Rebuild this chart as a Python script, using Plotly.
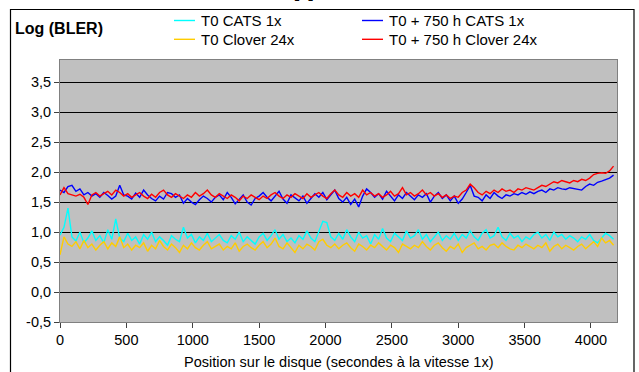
import plotly.graph_objects as go

# positions on disc (seconds at 1x speed)
positions = list(range(0, 4200, 30))

t0_cats_1x = [
    0.95, 1.08, 1.40, 0.92, 0.85, 1.00, 0.82, 0.90, 1.02, 0.86,
    0.94, 0.82, 1.04, 0.88, 1.22, 0.90, 0.84, 0.98, 0.86, 0.92,
    0.80, 0.96, 0.88, 1.00, 0.84, 0.92, 0.86, 0.78, 0.94, 0.88,
    0.84, 1.08, 0.90, 0.96, 0.82, 0.92, 0.86, 0.98, 0.84, 0.90,
    0.96, 0.86, 0.82, 0.94, 0.88, 1.00, 0.84, 0.92, 0.86, 0.80,
    0.92, 0.98, 0.86, 0.94, 1.04, 0.88, 0.96, 0.84, 0.90, 0.82,
    0.94, 0.88, 1.02, 0.90, 0.84, 1.00, 1.18, 1.16, 0.92, 0.86,
    0.98, 0.88, 1.04, 0.92, 0.84, 1.00, 0.90, 0.94, 0.80, 0.96,
    0.88, 1.06, 0.90, 0.84, 0.98, 0.92, 0.86, 1.02, 0.90, 0.94,
    1.04, 0.88, 0.96, 0.84, 0.92, 1.00, 0.86, 0.94, 0.88, 0.98,
    0.86, 0.96, 0.90, 1.02, 0.92, 0.86, 0.98, 1.04, 0.90, 0.94,
    1.08, 0.92, 0.86, 0.98, 0.90, 0.94, 0.84, 0.92, 0.88, 0.96,
    1.00, 0.90, 0.96, 0.86, 1.00, 0.92, 0.96, 0.88, 0.94, 0.90,
    0.84, 0.92, 0.88, 0.96, 0.86, 0.82, 0.90, 0.98, 0.94, 0.88,
]

t0_clover_24x = [
    0.62, 0.92, 0.80, 0.76, 0.84, 0.72, 0.86, 0.74, 0.80, 0.70,
    0.78, 0.84, 0.72, 0.82, 0.76, 0.92, 0.74, 0.80, 0.70, 0.78,
    0.74, 0.82, 0.68, 0.78, 0.72, 0.86, 0.76, 0.70, 0.80, 0.74,
    0.66, 0.78, 0.72, 0.82, 0.74, 0.70, 0.78, 0.84, 0.72, 0.76,
    0.80, 0.70, 0.76, 0.72, 0.82, 0.68, 0.76, 0.80, 0.74, 0.70,
    0.78, 0.84, 0.74, 0.80, 0.90, 0.76, 0.72, 0.82, 0.74, 0.66,
    0.78, 0.72, 0.80, 0.76, 0.70, 0.84, 0.88, 0.78, 0.74, 0.80,
    0.72, 0.78, 0.82, 0.74, 0.68, 0.80, 0.76, 0.70, 0.78, 0.74,
    0.82, 0.76, 0.70, 0.78, 0.74, 0.66, 0.80, 0.76, 0.72, 0.78,
    0.74, 0.84, 0.76, 0.70, 0.78, 0.82, 0.74, 0.68, 0.76, 0.72,
    0.80, 0.66, 0.74, 0.78, 0.82, 0.72, 0.76, 0.70, 0.78, 0.80,
    0.74, 0.82, 0.76, 0.72, 0.70, 0.78, 0.74, 0.80, 0.76, 0.72,
    0.78, 0.74, 0.82, 0.68, 0.76, 0.80, 0.72, 0.78, 0.74, 0.70,
    0.76, 0.80, 0.72, 0.78, 0.84, 0.76, 0.90, 0.82, 0.86, 0.78,
]

t750_cats_1x = [
    1.70, 1.66, 1.76, 1.78, 1.68, 1.72, 1.62, 1.66, 1.60, 1.64,
    1.58, 1.66, 1.61, 1.55, 1.60, 1.78, 1.62, 1.60, 1.55, 1.65,
    1.58, 1.70, 1.62, 1.56, 1.52, 1.60, 1.55, 1.66, 1.64, 1.58,
    1.62, 1.48, 1.56, 1.50, 1.46, 1.54, 1.60, 1.56, 1.50, 1.58,
    1.62, 1.54, 1.66, 1.58, 1.47, 1.55, 1.62, 1.50, 1.45, 1.56,
    1.60, 1.66, 1.58, 1.52, 1.60, 1.68, 1.55, 1.48, 1.62, 1.57,
    1.52, 1.60, 1.48, 1.56, 1.64, 1.58, 1.66, 1.54, 1.62, 1.70,
    1.56, 1.50, 1.58, 1.46, 1.55, 1.42, 1.60, 1.72, 1.66, 1.58,
    1.64, 1.55, 1.68, 1.60, 1.52, 1.62, 1.56, 1.66, 1.60, 1.54,
    1.62, 1.58, 1.64, 1.50, 1.60, 1.66, 1.56, 1.62, 1.52, 1.60,
    1.48, 1.55, 1.66, 1.78, 1.60, 1.58, 1.52, 1.62, 1.56, 1.66,
    1.60, 1.56, 1.62, 1.60, 1.64, 1.62, 1.66, 1.63, 1.67, 1.64,
    1.68, 1.70, 1.66, 1.72, 1.70, 1.74, 1.72, 1.71, 1.74, 1.73,
    1.72, 1.70, 1.76, 1.80, 1.78, 1.83, 1.85, 1.87, 1.90, 1.95,
]

t750_clover_24x = [
    1.62, 1.74, 1.64, 1.62, 1.60, 1.63, 1.58, 1.46, 1.62, 1.66,
    1.60, 1.64, 1.68, 1.62, 1.70, 1.66, 1.60, 1.64, 1.58, 1.62,
    1.66, 1.60, 1.56, 1.63, 1.58, 1.66, 1.70, 1.62, 1.58, 1.64,
    1.60, 1.56, 1.62, 1.58, 1.66, 1.60, 1.64, 1.70, 1.62, 1.58,
    1.64, 1.60, 1.56, 1.62, 1.58, 1.52, 1.60, 1.56, 1.62, 1.58,
    1.54, 1.60, 1.56, 1.62, 1.66, 1.60, 1.56, 1.62, 1.58, 1.64,
    1.60, 1.56, 1.64, 1.58, 1.62, 1.66, 1.60, 1.56, 1.64, 1.70,
    1.62, 1.58, 1.66, 1.60, 1.64, 1.58, 1.70, 1.62, 1.66, 1.60,
    1.64, 1.58, 1.62, 1.68, 1.60, 1.64, 1.74, 1.62, 1.66, 1.60,
    1.64, 1.70, 1.62, 1.66, 1.60, 1.64, 1.58, 1.62, 1.56, 1.60,
    1.58, 1.66, 1.70, 1.80, 1.74, 1.66, 1.62, 1.68, 1.64, 1.70,
    1.66, 1.72, 1.68, 1.70, 1.66, 1.72, 1.70, 1.74, 1.72, 1.70,
    1.74, 1.78, 1.76, 1.80, 1.84, 1.82, 1.86, 1.84, 1.82, 1.86,
    1.84, 1.88, 1.86, 1.90, 1.96, 1.98, 1.99, 1.98, 2.02, 2.10,
]

series_names = ["T0 CATS 1x", "T0 Clover 24x", "T0 + 750 h CATS 1x", "T0 + 750 h Clover 24x"]
series_values = [t0_cats_1x, t0_clover_24x, t750_cats_1x, t750_clover_24x]
series_colors = ["#00FFFF", "#FFCC00", "#0000FF", "#FF0000"]

y_tickvals = [-0.5, 0, 0.5, 1, 1.5, 2, 2.5, 3, 3.5]
y_ticktext = ["-0,5", "0,0", "0,5", "1,0", "1,5", "2,0", "2,5", "3,0", "3,5"]
x_tickvals = [0, 500, 1000, 1500, 2000, 2500, 3000, 3500, 4000]

FONT = "Liberation Sans, Arial, sans-serif"
W, H = 639, 372
L, R, T, B = 60, 22, 60, 50
PW, PH = W - L - R, H - T - B


def px(x):
    return (x - L) / PW


def py(y):
    return (H - B - y) / PH


fig = go.Figure()
for name, vals, col in zip(series_names, series_values, series_colors):
    fig.add_trace(go.Scatter(x=positions, y=vals, mode="lines", name=name,
                             line=dict(color=col, width=1.4), showlegend=False))

fig.update_layout(
    width=W, height=H,
    margin=dict(l=L, r=R, t=T, b=B),
    paper_bgcolor="white", plot_bgcolor="#C0C0C0",
    font=dict(family=FONT, size=14.5, color="black"),
    xaxis=dict(range=[0, 4196], tickvals=x_tickvals, showgrid=False, zeroline=False,
               showline=True, linecolor="#808080", linewidth=1, mirror=True,
               ticks="outside", ticklen=5, tickcolor="#404040",
               tickfont=dict(size=14.5, family=FONT)),
    yaxis=dict(range=[-0.5, 3.87], tickvals=y_tickvals, ticktext=y_ticktext,
               showgrid=True, gridcolor="black", gridwidth=1, zeroline=False,
               showline=True, linecolor="#808080", linewidth=1, mirror=True,
               ticks="outside", ticklen=5, tickcolor="#404040",
               tickfont=dict(size=14.5, family=FONT)),
)

# outer chart frame
fig.add_shape(type="rect", xref="paper", yref="paper",
              x0=px(10.5), x1=px(634), y0=py(380), y1=py(9.5),
              line=dict(color="black", width=1.2), layer="above")

# title (mostly cut off at the top)
fig.add_annotation(text="<b>[1]</b>", xref="paper", yref="paper", x=px(304), y=py(3),
                   xanchor="center", yanchor="bottom", showarrow=False,
                   font=dict(size=16, family=FONT))

# y-axis label
fig.add_annotation(text="<b>Log (BLER)</b>", xref="paper", yref="paper", x=px(13), y=py(29),
                   xanchor="left", yanchor="middle", showarrow=False,
                   font=dict(size=16, family=FONT))

# x-axis title
fig.add_annotation(text="Position sur le disque (secondes à la vitesse 1x)", xref="paper",
                   yref="paper", x=0.5, y=py(362), xanchor="center", yanchor="middle",
                   showarrow=False, font=dict(size=14.5, family=FONT))

# legend (two columns)
legend_pos = [(174, 20.5), (174, 39.3), (362, 20.5), (362, 39.3)]
for (lx, ly), name, col in zip(legend_pos, series_names, series_colors):
    fig.add_shape(type="line", xref="paper", yref="paper",
                  x0=px(lx), x1=px(lx + 21), y0=py(ly), y1=py(ly),
                  line=dict(color=col, width=1.4))
    fig.add_annotation(text=name, xref="paper", yref="paper", x=px(lx + 25), y=py(ly),
                       xanchor="left", yanchor="middle", showarrow=False,
                       font=dict(size=15, family=FONT))

fig.write_html("out.html", config={"displayModeBar": False},
               post_script="document.body.style.margin='0';document.body.style.padding='0';")
